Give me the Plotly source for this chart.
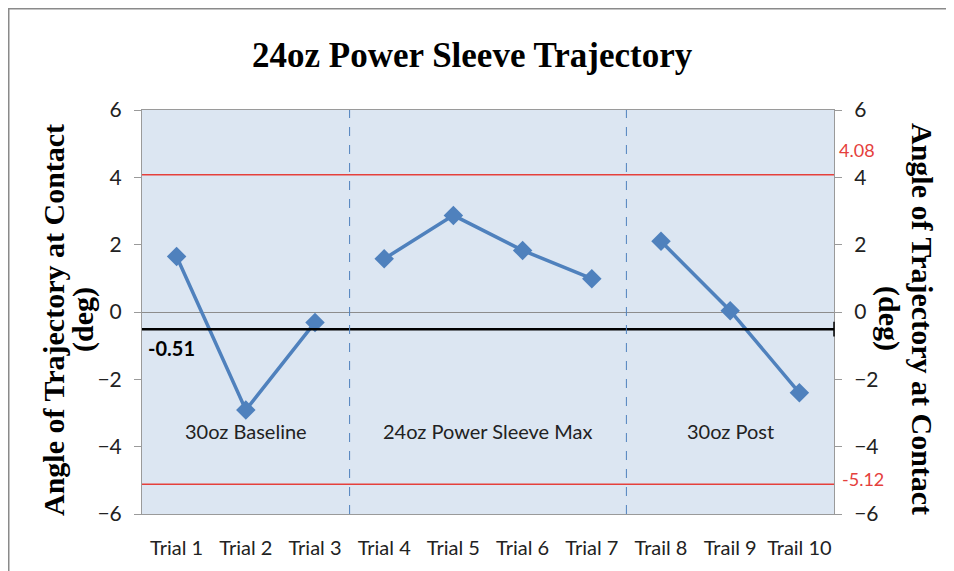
import plotly.graph_objects as go

categories = ["Trial 1", "Trial 2", "Trial 3", "Trial 4", "Trial 5",
              "Trial 6", "Trial 7", "Trail 8", "Trail 9", "Trail 10"]
segment_a = [1.65, -2.91, -0.31]          # 30oz Baseline
segment_b = [1.58, 2.87, 1.83, 0.99]      # 24oz Power Sleeve Max
segment_c = [2.10, 0.04, -2.40]           # 30oz Post
group_names = ["30oz Baseline", "24oz Power Sleeve Max", "30oz Post"]
group_sizes = [3, 4, 3]
mean_value = -0.51
upper_limit = 4.08
lower_limit = -5.12
y_ticks = [-6, -4, -2, 0, 2, 4, 6]

W, H = 954, 571
OFF = 8  # page body margin
L, R, T, B = 142, 834, 110, 514
def px(x):
    return (x - L) / (R - L)
def py(y):
    return (B - y) / (B - T)

BLUE = "#4F81BD"
RED = "#E5403C"
SERIF = "Liberation Serif, Times New Roman, serif"
SANS = "Lato, Liberation Sans, sans-serif"

fig = go.Figure()

segments = [segment_a, segment_b, segment_c]
start = 0
for seg, n in zip(segments, group_sizes):
    fig.add_trace(go.Scatter(
        x=categories[start:start + n], y=seg, mode="lines+markers",
        line=dict(color=BLUE, width=3.5),
        marker=dict(symbol="diamond", size=15, color=BLUE),
        showlegend=False, hoverinfo="x+y"))
    start += n

# dummy trace for right axis
fig.add_trace(go.Scatter(x=[categories[0]], y=[0], yaxis="y2", mode="markers",
                         marker=dict(opacity=0), showlegend=False, hoverinfo="skip"))

shapes = []
for yv, col, w in [(upper_limit, RED, 1.5), (lower_limit, RED, 1.5), (mean_value, "black", 2.5)]:
    shapes.append(dict(type="line", xref="paper", x0=0, x1=1, yref="y", y0=yv, y1=yv,
                       line=dict(color=col, width=w), layer="above"))
shapes.append(dict(type="line", xref="paper", x0=1, x1=1, yref="y", y0=mean_value - 0.22,
                   y1=mean_value + 0.22, line=dict(color="black", width=1.5)))
pos = -0.5
for n in group_sizes[:-1]:
    pos += n
    shapes.append(dict(type="line", xref="x", x0=pos, x1=pos, yref="paper", y0=0, y1=1,
                       line=dict(color=BLUE, width=1, dash="dash"), layer="above"))
shapes.append(dict(type="rect", xref="paper", yref="paper",
                   x0=px(8.5), x1=px(975), y0=py(590), y1=py(8.5),
                   line=dict(color="#8A8A8A", width=2), layer="below"))

def ann(x, y, text, size, color="black", family=SANS, angle=0, xref="paper", yref="paper"):
    return dict(x=x, xref=xref, y=y, yref=yref, text=text, showarrow=False,
                xanchor="center", yanchor="middle", textangle=angle,
                font=dict(family=family, size=size, color=color))

annotations = []
pos = -0.5
for name, n in zip(group_names, group_sizes):
    center = pos + n / 2
    pos += n
    annotations.append(ann(center, py(431), name, 20, "#222", xref="x"))
annotations.append(ann(px(171), py(348), "<b>-0.51</b>", 20))
annotations.append(ann(px(857), py(150), f"{upper_limit:.2f}", 18, RED))
annotations.append(ann(px(863), py(479), f"{lower_limit:.2f}", 18, RED))
annotations.append(ann(px(472), py(55), "<b>24oz Power Sleeve Trajectory</b>", 35, family=SERIF))
annotations.append(ann(px(53), py(320), "<b>Angle of Trajectory at Contact</b>", 30, family=SERIF, angle=-90))
annotations.append(ann(px(83), py(320), "<b>(deg)</b>", 30, family=SERIF, angle=-90))
annotations.append(ann(px(923), py(319), "<b>Angle of Trajectory at Contact</b>", 30, family=SERIF, angle=90))
annotations.append(ann(px(889), py(319), "<b>(deg)</b>", 30, family=SERIF, angle=90))

fig.update_layout(
    width=W - OFF, height=H - OFF,
    margin=dict(l=L - OFF, r=W - R, t=T - OFF, b=H - B),
    paper_bgcolor="white", plot_bgcolor="#DCE6F2",
    shapes=shapes, annotations=annotations,
    xaxis=dict(type="category", categoryorder="array", categoryarray=categories,
               range=[-0.5, len(categories) - 0.5], showgrid=False, zeroline=False,
               showline=True, linecolor="#9A9A9A", linewidth=1, mirror=True,
               ticks="", ticklabelstandoff=16,
               tickfont=dict(family=SANS, size=20, color="#222")),
    yaxis=dict(range=[-6, 6], tickvals=y_ticks, showgrid=False,
               zeroline=True, zerolinecolor="#8C8C8C", zerolinewidth=1,
               showline=True, linecolor="#9A9A9A", linewidth=1,
               ticks="outside", ticklen=7, tickcolor="#9A9A9A",
               ticklabelstandoff=8,
               tickfont=dict(family=SANS, size=21, color="#222")),
    yaxis2=dict(range=[-6, 6], tickvals=y_ticks, overlaying="y", side="right",
                showgrid=False, zeroline=False,
                showline=True, linecolor="#9A9A9A", linewidth=1,
                ticks="outside", ticklen=7, tickcolor="#9A9A9A",
                ticklabelstandoff=8,
                tickfont=dict(family=SANS, size=21, color="#222")),
)

fig.write_html("out.html")
